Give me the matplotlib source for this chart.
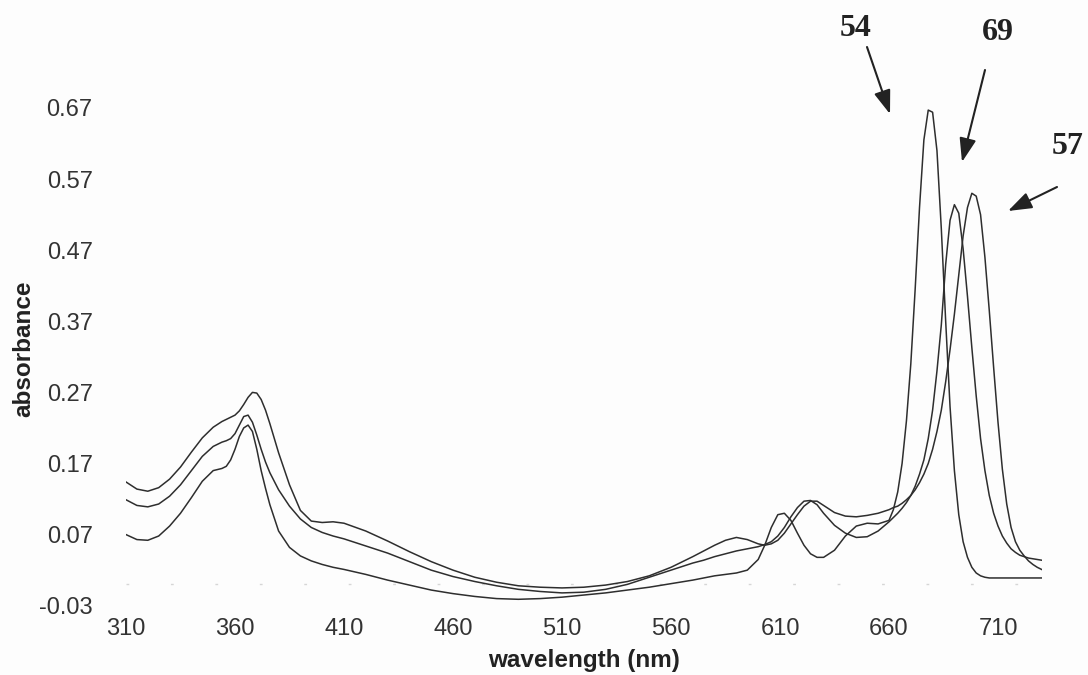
import matplotlib
matplotlib.use("Agg")
import matplotlib.pyplot as plt
from matplotlib.patches import FancyArrowPatch

# Wavelength grid (nm) shared by the three spectra
wavelength = [310, 315, 320, 325, 330, 335, 340, 345, 350, 354, 356, 358, 360, 362, 364,
              366, 368, 370, 372, 374, 376, 380, 385, 390, 395, 400, 405, 410, 420, 430,
              440, 450, 460, 470, 480, 490, 500, 510, 520, 530, 540, 550, 560, 570, 575,
              580, 585, 590, 595, 600, 603, 606, 609, 612, 615, 618, 621, 624, 627, 630,
              635, 640, 645, 650, 655,
              660, 662, 664, 666, 668, 670, 672, 674, 676, 678, 680, 682, 684, 686, 688,
              690, 692, 694, 696, 698, 700, 702, 704, 706, 708, 710, 712, 714, 716, 718,
              720, 722, 724, 726, 728, 730]

# Compound 57
abs_57 = [0.144, 0.134, 0.131, 0.136, 0.148, 0.165, 0.186, 0.206, 0.221, 0.229, 0.232, 0.235,
          0.238, 0.244, 0.253, 0.263, 0.270, 0.269, 0.260, 0.245, 0.226, 0.185, 0.140, 0.104,
          0.089, 0.087, 0.088, 0.086, 0.075, 0.061, 0.046, 0.032, 0.020, 0.010, 0.003, -0.002,
          -0.004, -0.005, -0.004, -0.001, 0.004, 0.012, 0.024, 0.039, 0.047, 0.055, 0.062,
          0.066, 0.063, 0.057, 0.055, 0.057, 0.062, 0.072, 0.085, 0.098, 0.110, 0.117, 0.117,
          0.111, 0.101, 0.096, 0.095, 0.097, 0.100,
          0.105, 0.108, 0.110, 0.114, 0.119, 0.125, 0.133, 0.143, 0.155, 0.170, 0.190, 0.215,
          0.245, 0.285, 0.330, 0.380, 0.435, 0.490, 0.530, 0.550, 0.546, 0.520, 0.460, 0.385,
          0.305, 0.228, 0.162, 0.113, 0.080, 0.060, 0.048, 0.040, 0.033, 0.028, 0.024, 0.021]

# Compound 69
abs_69 = [0.119, 0.111, 0.109, 0.113, 0.124, 0.140, 0.160, 0.180, 0.194, 0.200, 0.202, 0.205,
          0.212, 0.224, 0.236, 0.238, 0.228, 0.210, 0.190, 0.172, 0.157, 0.133, 0.110, 0.092,
          0.080, 0.073, 0.068, 0.064, 0.054, 0.044, 0.032, 0.020, 0.011, 0.004, -0.002, -0.007,
          -0.010, -0.012, -0.011, -0.007, 0.000, 0.010, 0.020, 0.030, 0.034, 0.039, 0.043,
          0.047, 0.050, 0.053, 0.056, 0.060, 0.068, 0.080, 0.095, 0.108, 0.117, 0.118, 0.112,
          0.100, 0.083, 0.072, 0.066, 0.067, 0.075,
          0.088, 0.094, 0.100, 0.107, 0.115, 0.125, 0.138, 0.155, 0.175, 0.205, 0.245, 0.300,
          0.365, 0.450, 0.512, 0.534, 0.522, 0.472, 0.405, 0.333, 0.265, 0.205, 0.160, 0.125,
          0.100, 0.082, 0.068, 0.058, 0.050, 0.045, 0.041, 0.039, 0.037, 0.036, 0.035, 0.034]

# Compound 54
abs_54 = [0.070, 0.063, 0.062, 0.068, 0.082, 0.100, 0.122, 0.145, 0.160, 0.163, 0.166, 0.175,
          0.190, 0.208, 0.220, 0.224, 0.215, 0.190, 0.160, 0.135, 0.112, 0.075, 0.052, 0.040,
          0.033, 0.028, 0.024, 0.021, 0.014, 0.006, -0.001, -0.008, -0.013, -0.017, -0.020,
          -0.021, -0.020, -0.018, -0.015, -0.012, -0.008, -0.004, 0.001, 0.006, 0.009, 0.012,
          0.014, 0.016, 0.020, 0.035, 0.055, 0.080, 0.098, 0.100, 0.090, 0.072, 0.055, 0.043,
          0.038, 0.038, 0.048, 0.068, 0.082, 0.086, 0.085,
          0.090, 0.105, 0.130, 0.170, 0.230, 0.310, 0.415, 0.530, 0.625, 0.667, 0.664, 0.610,
          0.500, 0.370, 0.250, 0.160, 0.098, 0.060, 0.038, 0.024, 0.016, 0.012, 0.010, 0.009,
          0.009, 0.009, 0.009, 0.009, 0.009, 0.009, 0.009, 0.009, 0.009, 0.009, 0.009, 0.009]

y_ticks = [-0.03, 0.07, 0.17, 0.27, 0.37, 0.47, 0.57, 0.67]
x_ticks = [310, 360, 410, 460, 510, 560, 610, 660, 710]

W, H = 1088, 675
fig = plt.figure(figsize=(W / 100, H / 100), dpi=100, facecolor="#fdfdfd")
ax = fig.add_axes([126 / W, 1 - 605.7 / H, 915.6 / W, 533.3 / H])
ax.set_facecolor("#fdfdfd")

line_kw = dict(color="#2e2e2e", lw=1.1, solid_joinstyle="round")
for series in (abs_54, abs_69, abs_57):
    ax.plot(wavelength, series, **line_kw)

# faint, broken zero line
ax.axhline(0, color="#d6d6d6", lw=1.0, ls=(0, (2, 30)), zorder=0)

ax.set_xlim(310, 730)
ax.set_ylim(-0.03, 0.72)
for s in ax.spines.values():
    s.set_visible(False)

ax.set_yticks(y_ticks)
ax.set_yticklabels([f"{v:.2f}" for v in y_ticks])
ax.set_xticks(x_ticks)
ax.set_xticklabels([str(v) for v in x_ticks])
ax.tick_params(axis="y", length=0, pad=24, labelsize=17, labelcolor="#333333")
ax.tick_params(axis="x", length=0, pad=9, labelsize=17, labelcolor="#333333")
for lab in ax.get_xticklabels() + ax.get_yticklabels():
    lab.set_family("Liberation Sans")

fig.text(584 / W, 1 - 661 / H, "wavelength (nm)", ha="center", va="center",
         fontsize=17.5, fontweight="bold", family="Liberation Sans", color="#222222")
fig.text(24 / W, 1 - 349 / H, "absorbance", ha="center", va="center", rotation=90,
         fontsize=17.5, fontweight="bold", family="Liberation Sans", color="#222222")


def px(x, y):
    """Pixel position -> figure fraction."""
    return (x / W, 1 - y / H)


# peak labels with arrows
label_kw = dict(fontsize=23, fontweight="bold", family="Liberation Serif", color="#222222",
                ha="center", va="center")
fig.text(*px(856, 29), "54", **label_kw)
fig.text(*px(998, 32), "69", **label_kw)
fig.text(*px(1068, 147), "57", **label_kw)
for (x0, y0), (x1, y1) in [((867, 47), (890, 114)), ((985, 70), (962, 162)),
                           ((1057, 187), (1008, 211))]:
    fig.add_artist(FancyArrowPatch(px(x0, y0), px(x1, y1), transform=fig.transFigure,
                                   arrowstyle="-|>,head_length=0.85,head_width=0.3",
                                   mutation_scale=17, color="#222222", lw=1.5,
                                   shrinkA=0, shrinkB=0))

fig.savefig("out.png", dpi=100, facecolor=fig.get_facecolor())
